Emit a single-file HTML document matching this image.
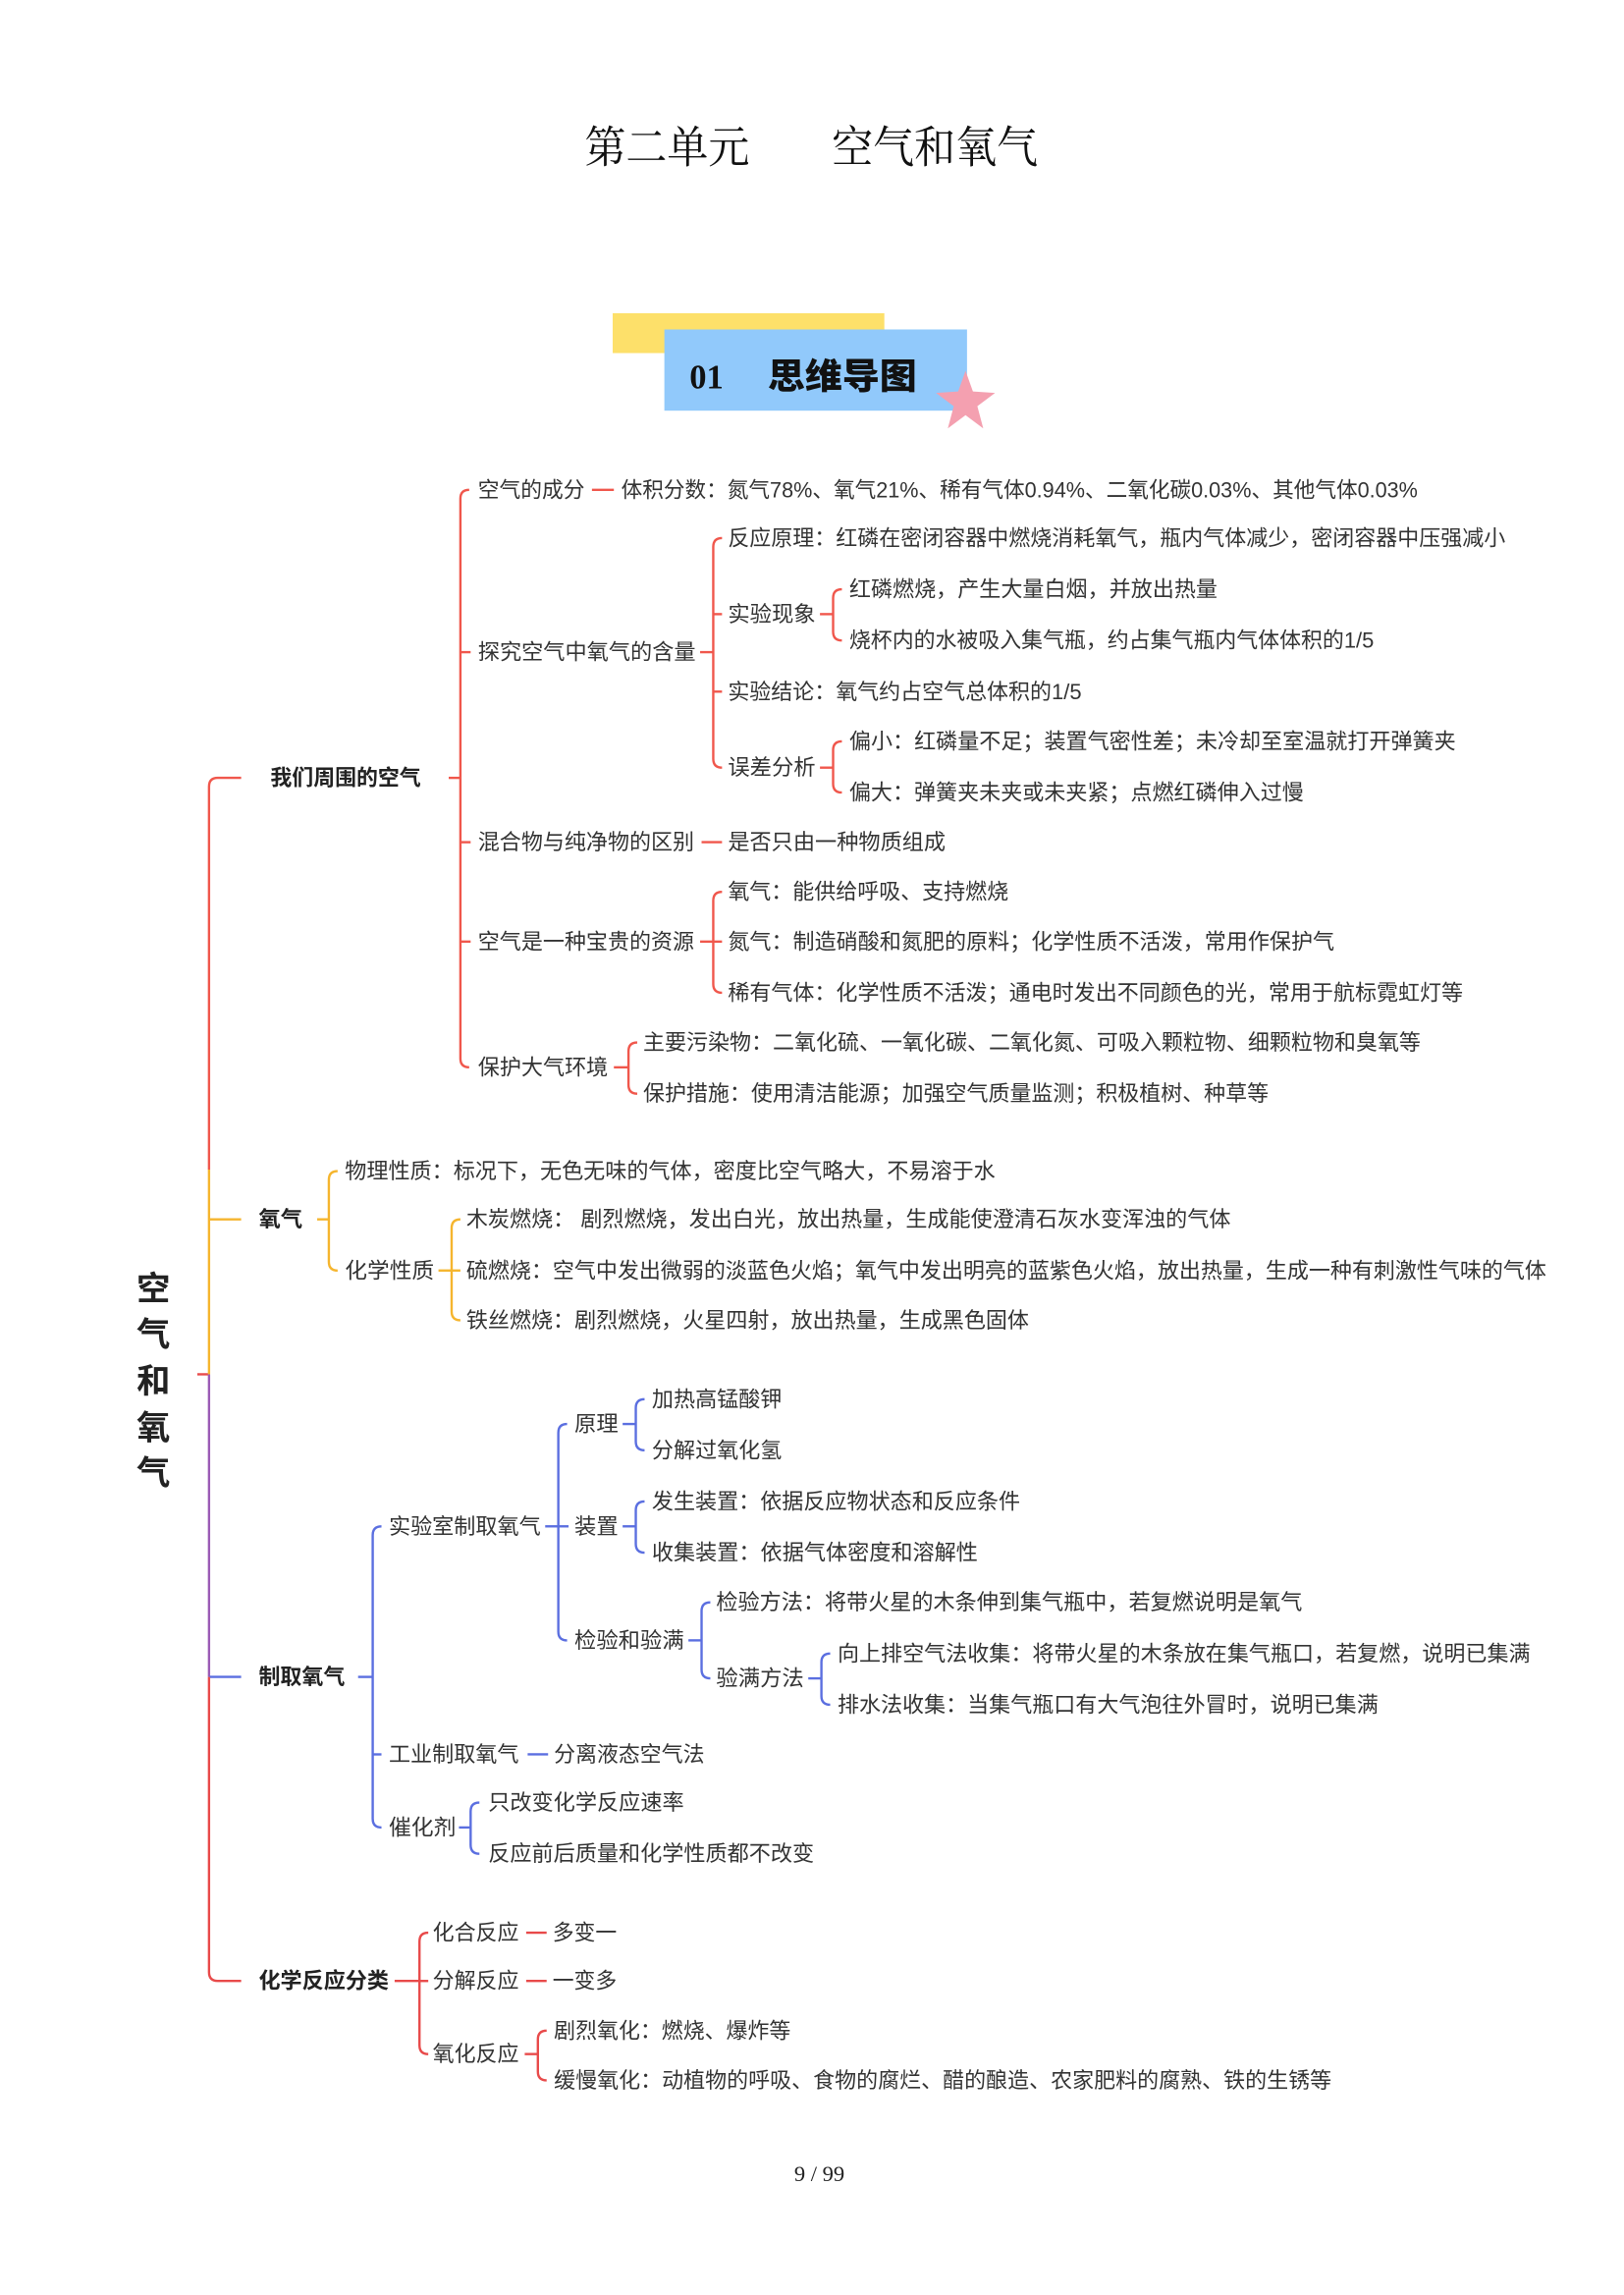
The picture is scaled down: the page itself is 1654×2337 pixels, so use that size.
<!DOCTYPE html>
<html><head><meta charset="utf-8"><style>
html,body{margin:0;padding:0;background:#fff;}
svg{display:block;}
text{font-family:"Liberation Sans","Noto Sans CJK SC",sans-serif;}
.t{font-size:15px;fill:#333;dominant-baseline:central;}
.b{font-size:15px;fill:#222;font-weight:bold;dominant-baseline:central;}
.r{stroke:#f0574c;stroke-width:1.6;fill:none;}
.o{stroke:#f5b52e;stroke-width:1.6;fill:none;}
.u{stroke:#5b6fe0;stroke-width:1.6;fill:none;}
.p{stroke:#e84a4a;stroke-width:1.6;fill:none;}
</style></head><body>
<svg width="1654" height="2337" viewBox="0 0 1100 1554" xmlns="http://www.w3.org/2000/svg">
<!-- title -->
<text x="396" y="110" textLength="307" lengthAdjust="spacingAndGlyphs" style="font-family:'Liberation Serif','Noto Serif CJK SC',serif;font-size:30px;fill:#111;">第二单元　　空气和氧气</text>
<rect x="415" y="212" width="184" height="27" fill="#fde06a"/>
<rect x="450" y="223" width="205" height="55" fill="#91c9fb"/>
<text x="467" y="263" style="font-family:'Liberation Serif',serif;font-size:23px;font-weight:bold;fill:#111;">01</text>
<text x="520" y="263" textLength="101" lengthAdjust="spacingAndGlyphs" style="font-family:'Noto Sans CJK SC',sans-serif;font-size:24px;font-weight:900;fill:#111;">思维导图</text>
<polygon points="654,251 659,265 674,266 662,275 666,290 654,281 642,290 646,275 634,266 649,265" fill="#f4a0b0"/>

<g transform="scale(0.99)">
<!-- root -->
<text x="105" y="882" text-anchor="middle" class="b" style="font-size:23px">空</text>
<text x="105" y="913" text-anchor="middle" class="b" style="font-size:23px">气</text>
<text x="105" y="945" text-anchor="middle" class="b" style="font-size:23px">和</text>
<text x="105" y="977" text-anchor="middle" class="b" style="font-size:23px">氧</text>
<text x="105" y="1008" text-anchor="middle" class="b" style="font-size:23px">气</text>
<line x1="135" y1="940" x2="143" y2="940" class="p"/>

<!-- trunk -->
<path d="M165,532 L149,532 Q143,532 143,538 L143,800" class="r"/>
<path d="M143,800 L143,940" class="o"/>
<line x1="143" y1="834" x2="165" y2="834" class="o"/>
<path d="M143,940 L143,1147" style="stroke:#9b5bb5;stroke-width:1.6"/>
<line x1="143" y1="1147" x2="165" y2="1147" class="u"/>
<path d="M143,1147 L143,1349 Q143,1355 149,1355 L165,1355" class="p"/>

<!-- 我们周围的空气 -->
<text x="185" y="532" class="b" textLength="103" lengthAdjust="spacingAndGlyphs">我们周围的空气</text>
<line x1="307" y1="532" x2="315" y2="532" class="r"/>
<path d="M321,335 Q315,335 315,341 L315,724 Q315,730 321,730" class="r"/>
<line x1="315" y1="446" x2="322" y2="446" class="r"/>
<line x1="315" y1="576" x2="322" y2="576" class="r"/>
<line x1="315" y1="644" x2="322" y2="644" class="r"/>

<text x="327" y="335" class="t" textLength="73" lengthAdjust="spacingAndGlyphs">空气的成分</text>
<line x1="405" y1="335" x2="420" y2="335" class="r"/>
<text x="425" y="335" class="t" textLength="545" lengthAdjust="spacingAndGlyphs">体积分数：氮气78%、氧气21%、稀有气体0.94%、二氧化碳0.03%、其他气体0.03%</text>

<text x="327" y="446" class="t" textLength="149" lengthAdjust="spacingAndGlyphs">探究空气中氧气的含量</text>
<line x1="479" y1="446" x2="488" y2="446" class="r"/>
<path d="M494,368 Q488,368 488,374 L488,519 Q488,525 494,525" class="r"/>
<line x1="488" y1="420" x2="494" y2="420" class="r"/>
<line x1="488" y1="473" x2="494" y2="473" class="r"/>
<text x="498" y="368" class="t" textLength="532" lengthAdjust="spacingAndGlyphs">反应原理：红磷在密闭容器中燃烧消耗氧气，瓶内气体减少，密闭容器中压强减小</text>
<text x="498" y="420" class="t" textLength="60" lengthAdjust="spacingAndGlyphs">实验现象</text>
<line x1="561" y1="420" x2="570" y2="420" class="r"/>
<path d="M576,403 Q570,403 570,409 L570,432 Q570,438 576,438" class="r"/>
<text x="581" y="403" class="t" textLength="252" lengthAdjust="spacingAndGlyphs">红磷燃烧，产生大量白烟，并放出热量</text>
<text x="581" y="438" class="t" textLength="359" lengthAdjust="spacingAndGlyphs">烧杯内的水被吸入集气瓶，约占集气瓶内气体体积的1/5</text>
<text x="498" y="473" class="t" textLength="242" lengthAdjust="spacingAndGlyphs">实验结论：氧气约占空气总体积的1/5</text>
<text x="498" y="525" class="t" textLength="60" lengthAdjust="spacingAndGlyphs">误差分析</text>
<line x1="561" y1="525" x2="570" y2="525" class="r"/>
<path d="M576,507 Q570,507 570,513 L570,536 Q570,542 576,542" class="r"/>
<text x="581" y="507" class="t" textLength="415" lengthAdjust="spacingAndGlyphs">偏小：红磷量不足；装置气密性差；未冷却至室温就打开弹簧夹</text>
<text x="581" y="542" class="t" textLength="311" lengthAdjust="spacingAndGlyphs">偏大：弹簧夹未夹或未夹紧；点燃红磷伸入过慢</text>

<text x="327" y="576" class="t" textLength="148" lengthAdjust="spacingAndGlyphs">混合物与纯净物的区别</text>
<line x1="480" y1="576" x2="494" y2="576" class="r"/>
<text x="498" y="576" class="t" textLength="149" lengthAdjust="spacingAndGlyphs">是否只由一种物质组成</text>

<text x="327" y="644" class="t" textLength="148" lengthAdjust="spacingAndGlyphs">空气是一种宝贵的资源</text>
<line x1="479" y1="644" x2="488" y2="644" class="r"/>
<path d="M494,610 Q488,610 488,616 L488,673 Q488,679 494,679" class="r"/>
<line x1="488" y1="644" x2="494" y2="644" class="r"/>
<text x="498" y="610" class="t" textLength="192" lengthAdjust="spacingAndGlyphs">氧气：能供给呼吸、支持燃烧</text>
<text x="498" y="644" class="t" textLength="415" lengthAdjust="spacingAndGlyphs">氮气：制造硝酸和氮肥的原料；化学性质不活泼，常用作保护气</text>
<text x="498" y="679" class="t" textLength="503" lengthAdjust="spacingAndGlyphs">稀有气体：化学性质不活泼；通电时发出不同颜色的光，常用于航标霓虹灯等</text>

<text x="327" y="730" class="t" textLength="89" lengthAdjust="spacingAndGlyphs">保护大气环境</text>
<line x1="420" y1="730" x2="430" y2="730" class="r"/>
<path d="M436,713 Q430,713 430,719 L430,742 Q430,748 436,748" class="r"/>
<text x="440" y="713" class="t" textLength="532" lengthAdjust="spacingAndGlyphs">主要污染物：二氧化硫、一氧化碳、二氧化氮、可吸入颗粒物、细颗粒物和臭氧等</text>
<text x="440" y="748" class="t" textLength="428" lengthAdjust="spacingAndGlyphs">保护措施：使用清洁能源；加强空气质量监测；积极植树、种草等</text>

<!-- 氧气 -->
<text x="177" y="834" class="b" textLength="30" lengthAdjust="spacingAndGlyphs">氧气</text>
<line x1="217" y1="834" x2="225" y2="834" class="o"/>
<path d="M231,801 Q225,801 225,807 L225,863 Q225,869 231,869" class="o"/>
<text x="236" y="801" class="t" textLength="445" lengthAdjust="spacingAndGlyphs">物理性质：标况下，无色无味的气体，密度比空气略大，不易溶于水</text>
<text x="236" y="869" class="t" textLength="61" lengthAdjust="spacingAndGlyphs">化学性质</text>
<line x1="300" y1="869" x2="309" y2="869" class="o"/>
<path d="M315,834 Q309,834 309,840 L309,897 Q309,903 315,903" class="o"/>
<line x1="309" y1="869" x2="315" y2="869" class="o"/>
<text x="319" y="834" class="t" textLength="523" lengthAdjust="spacingAndGlyphs">木炭燃烧： 剧烈燃烧，发出白光，放出热量，生成能使澄清石灰水变浑浊的气体</text>
<text x="319" y="869" class="t" textLength="739" lengthAdjust="spacingAndGlyphs">硫燃烧：空气中发出微弱的淡蓝色火焰；氧气中发出明亮的蓝紫色火焰，放出热量，生成一种有刺激性气味的气体</text>
<text x="319" y="903" class="t" textLength="385" lengthAdjust="spacingAndGlyphs">铁丝燃烧：剧烈燃烧，火星四射，放出热量，生成黑色固体</text>

<!-- 制取氧气 -->
<text x="177" y="1147" class="b" textLength="59" lengthAdjust="spacingAndGlyphs">制取氧气</text>
<line x1="245" y1="1147" x2="255" y2="1147" class="u"/>
<path d="M261,1044 Q255,1044 255,1050 L255,1244 Q255,1250 261,1250" class="u"/>
<line x1="255" y1="1200" x2="261" y2="1200" class="u"/>
<text x="266" y="1044" class="t" textLength="104" lengthAdjust="spacingAndGlyphs">实验室制取氧气</text>
<line x1="373" y1="1044" x2="382" y2="1044" class="u"/>
<path d="M388,974 Q382,974 382,980 L382,1116 Q382,1122 388,1122" class="u"/>
<line x1="382" y1="1044" x2="389" y2="1044" class="u"/>
<text x="393" y="974" class="t" textLength="30" lengthAdjust="spacingAndGlyphs">原理</text>
<line x1="426" y1="974" x2="435" y2="974" class="u"/>
<path d="M441,957 Q435,957 435,963 L435,986 Q435,992 441,992" class="u"/>
<text x="446" y="957" class="t" textLength="89" lengthAdjust="spacingAndGlyphs">加热高锰酸钾</text>
<text x="446" y="992" class="t" textLength="89" lengthAdjust="spacingAndGlyphs">分解过氧化氢</text>
<text x="393" y="1044" class="t" textLength="30" lengthAdjust="spacingAndGlyphs">装置</text>
<line x1="426" y1="1044" x2="435" y2="1044" class="u"/>
<path d="M441,1027 Q435,1027 435,1033 L435,1056 Q435,1062 441,1062" class="u"/>
<text x="446" y="1027" class="t" textLength="252" lengthAdjust="spacingAndGlyphs">发生装置：依据反应物状态和反应条件</text>
<text x="446" y="1062" class="t" textLength="223" lengthAdjust="spacingAndGlyphs">收集装置：依据气体密度和溶解性</text>
<text x="393" y="1122" class="t" textLength="75" lengthAdjust="spacingAndGlyphs">检验和验满</text>
<line x1="471" y1="1122" x2="480" y2="1122" class="u"/>
<path d="M486,1096 Q480,1096 480,1102 L480,1142 Q480,1148 486,1148" class="u"/>
<text x="490" y="1096" class="t" textLength="401" lengthAdjust="spacingAndGlyphs">检验方法：将带火星的木条伸到集气瓶中，若复燃说明是氧气</text>
<text x="490" y="1148" class="t" textLength="60" lengthAdjust="spacingAndGlyphs">验满方法</text>
<line x1="553" y1="1148" x2="562" y2="1148" class="u"/>
<path d="M568,1131 Q562,1131 562,1137 L562,1160 Q562,1166 568,1166" class="u"/>
<text x="573" y="1131" class="t" textLength="474" lengthAdjust="spacingAndGlyphs">向上排空气法收集：将带火星的木条放在集气瓶口，若复燃，说明已集满</text>
<text x="573" y="1166" class="t" textLength="370" lengthAdjust="spacingAndGlyphs">排水法收集：当集气瓶口有大气泡往外冒时，说明已集满</text>
<text x="266" y="1200" class="t" textLength="89" lengthAdjust="spacingAndGlyphs">工业制取氧气</text>
<line x1="361" y1="1200" x2="375" y2="1200" class="u"/>
<text x="379" y="1200" class="t" textLength="103" lengthAdjust="spacingAndGlyphs">分离液态空气法</text>
<text x="266" y="1250" class="t" textLength="46" lengthAdjust="spacingAndGlyphs">催化剂</text>
<line x1="314" y1="1250" x2="322" y2="1250" class="u"/>
<path d="M328,1233 Q322,1233 322,1239 L322,1262 Q322,1268 328,1268" class="u"/>
<text x="334" y="1233" class="t" textLength="134" lengthAdjust="spacingAndGlyphs">只改变化学反应速率</text>
<text x="334" y="1268" class="t" textLength="223" lengthAdjust="spacingAndGlyphs">反应前后质量和化学性质都不改变</text>

<!-- 化学反应分类 -->
<text x="177" y="1355" class="b" textLength="89" lengthAdjust="spacingAndGlyphs">化学反应分类</text>
<line x1="270" y1="1355" x2="287" y2="1355" class="p"/>
<path d="M293,1322 Q287,1322 287,1328 L287,1399 Q287,1405 293,1405" class="p"/>
<line x1="287" y1="1355" x2="293" y2="1355" class="p"/>
<text x="296" y="1322" class="t" textLength="59" lengthAdjust="spacingAndGlyphs">化合反应</text>
<line x1="360" y1="1322" x2="374" y2="1322" class="p"/>
<text x="378" y="1322" class="t" textLength="44" lengthAdjust="spacingAndGlyphs">多变一</text>
<text x="296" y="1355" class="t" textLength="59" lengthAdjust="spacingAndGlyphs">分解反应</text>
<line x1="360" y1="1355" x2="374" y2="1355" class="p"/>
<text x="378" y="1355" class="t" textLength="44" lengthAdjust="spacingAndGlyphs">一变多</text>
<text x="296" y="1405" class="t" textLength="59" lengthAdjust="spacingAndGlyphs">氧化反应</text>
<line x1="359" y1="1405" x2="368" y2="1405" class="p"/>
<path d="M374,1389 Q368,1389 368,1395 L368,1417 Q368,1423 374,1423" class="p"/>
<text x="379" y="1389" class="t" textLength="162" lengthAdjust="spacingAndGlyphs">剧烈氧化：燃烧、爆炸等</text>
<text x="379" y="1423" class="t" textLength="532" lengthAdjust="spacingAndGlyphs">缓慢氧化：动植物的呼吸、食物的腐烂、醋的酿造、农家肥料的腐熟、铁的生锈等</text>
</g>

<!-- footer -->
<text x="555" y="1477" text-anchor="middle" style="font-family:'Liberation Serif',serif;font-size:15px;fill:#222;">9 / 99</text>
</svg>
</body></html>
